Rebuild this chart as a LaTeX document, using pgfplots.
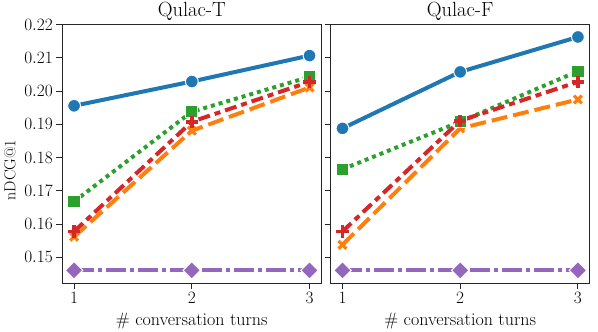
\documentclass[border=0pt]{standalone}
\usepackage{pgfplots}
\usepackage{pgfplotstable}
\pgfplotsset{compat=1.18}

\definecolor{c1}{HTML}{1F77B4}
\definecolor{c2}{HTML}{FF7F0E}
\definecolor{c3}{HTML}{2CA02C}
\definecolor{c4}{HTML}{D62728}
\definecolor{c5}{HTML}{9467BD}

% nDCG@1 per number of turns, one table per dataset
\pgfplotstableread{
turn  s1      s2      s3      s4      s5
1     0.1956  0.1562  0.1668  0.1578  0.1461
2     0.2029  0.1881  0.1938  0.1908  0.1461
3     0.2107  0.2011  0.2043  0.2028  0.1461
}\qulacT
\pgfplotstableread{
turn  s1      s2      s3      s4      s5
1     0.1888  0.1538  0.1765  0.1578  0.1461
2     0.2058  0.1888  0.1908  0.1911  0.1461
3     0.2163  0.1975  0.2060  0.2028  0.1461
}\qulacF

\pgfplotsset{
  panel/.style={
    anchor=south west,
    scale only axis, width=259pt, height=259pt,
    xmin=0.9, xmax=3.1, ymin=0.1423, ymax=0.2202,
    xtick={1,2,3},
    ytick={0.15,0.16,0.17,0.18,0.19,0.20,0.21,0.22},
    tick align=outside, major tick length=6pt,
    xtick pos=bottom, ytick pos=left,
    axis line style={black!85, line width=0.9pt},
    every tick/.style={black!85, line width=0.9pt},
    tick label style={font=\fontsize{16}{19}\selectfont},
    yticklabel style={/pgf/number format/.cd, fixed, fixed zerofill, precision=2},
    every axis title/.style={at={(0.5,1)}, anchor=base, yshift=7.3pt,
                 font=\fontsize{20.5}{24}\selectfont},
    xlabel style={at={(0.5,0)}, anchor=base, yshift=-43pt,
                  font=\fontsize{18}{21}\selectfont},
    xlabel={\# conversation turns},
    clip=false,
  },
  s1/.style={c1, line width=4pt, solid, mark=*, mark size=6.4pt,
             mark options={solid, fill=c1, draw=white, line width=1pt}},
  s2/.style={c2, line width=4pt, dash pattern=on 16pt off 6pt,
             mark=x, mark size=5.5pt, mark options={solid, line width=3.2pt}},
  s3/.style={c3, line width=4pt, dash pattern=on 4pt off 4pt,
             mark=square*, mark size=6.2pt,
             mark options={solid, fill=c3, draw=white, line width=1pt}},
  s4/.style={c4, line width=4pt,
             dash pattern=on 12pt off 5pt on 6pt off 5pt,
             mark=+, mark size=6.2pt, mark options={solid, line width=3.6pt}},
  s5/.style={c5, line width=4pt,
             dash pattern=on 20pt off 4pt on 4pt off 4pt,
             mark=square*, mark size=6.2pt,
             mark options={solid, rotate=45, fill=c5, draw=white, line width=1pt}},
}

\begin{document}
\begin{tikzpicture}
\useasboundingbox (0,0) rectangle (598pt,332pt);

\begin{axis}[panel, at={(62.3pt,49pt)}, title={Qulac-T}]
  \addplot[s1] table[x=turn, y=s1] {\qulacT};
  \addplot[s2] table[x=turn, y=s2] {\qulacT};
  \addplot[s3] table[x=turn, y=s3] {\qulacT};
  \addplot[s4] table[x=turn, y=s4] {\qulacT};
  \addplot[s5] table[x=turn, y=s5] {\qulacT};
\end{axis}

\begin{axis}[panel, at={(330.7pt,49pt)}, title={Qulac-F}, yticklabels={}]
  \addplot[s1] table[x=turn, y=s1] {\qulacF};
  \addplot[s2] table[x=turn, y=s2] {\qulacF};
  \addplot[s3] table[x=turn, y=s3] {\qulacF};
  \addplot[s4] table[x=turn, y=s4] {\qulacF};
  \addplot[s5] table[x=turn, y=s5] {\qulacF};
\end{axis}

\node[rotate=90, font=\fontsize{16}{19}\selectfont] at (10pt,162pt) {nDCG@1};
\end{tikzpicture}
\end{document}
